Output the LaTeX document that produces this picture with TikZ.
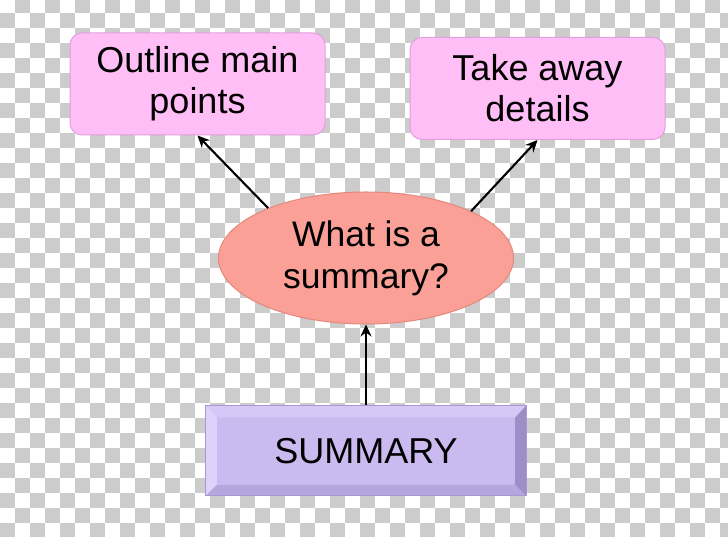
\documentclass[tikz,border=0pt]{standalone}
\usepackage{fontspec}
\setmainfont{Liberation Sans}
\usetikzlibrary{positioning,arrows.meta,calc,shapes.geometric}
\definecolor{checker}{RGB}{204,204,204}
\definecolor{pinkfill}{RGB}{255,190,245}
\definecolor{pinkline}{RGB}{225,160,220}
\definecolor{salmon}{RGB}{250,160,150}
\definecolor{salmonline}{RGB}{230,135,125}
\definecolor{lavender}{RGB}{203,186,240}
\definecolor{lavtop}{RGB}{214,200,246}
\definecolor{lavleft}{RGB}{222,210,250}
\definecolor{lavright}{RGB}{158,142,198}
\definecolor{lavbottom}{RGB}{182,166,222}
\definecolor{lavline}{RGB}{170,150,215}

\begin{document}
\begin{tikzpicture}[
    x=1pt, y=1pt,
    >={Stealth[length=12pt,width=11pt,inset=4pt]},
    ideabox/.style={
      rectangle, rounded corners=12pt,
      draw=pinkline, line width=1pt, fill=pinkfill,
      minimum width=255pt, minimum height=102pt,
      align=center, font=\fontsize{36}{41}\selectfont
    },
    question/.style={
      ellipse, draw=salmonline, line width=1pt, fill=salmon,
      minimum width=295pt, minimum height=132pt, inner sep=1pt,
      align=center, font=\fontsize{35.5}{42}\selectfont
    },
    bevelbox/.style={
      rectangle, fill=lavender,
      minimum width=320pt, minimum height=90pt,
      font=\fontsize{36}{42}\selectfont
    },
    link/.style={->, line width=2.1pt, black},
  ]

  % Background
  \useasboundingbox (0,0) rectangle (728,537);
  \begin{scope}
    \clip (0,0) rectangle (728,537);
    \foreach \i in {0,...,48}{
      \foreach \j in {0,...,36}{
        \ifodd\numexpr\i+\j\relax
          \fill[checker] (15*\i,539-15*\j) rectangle ++(15,-15);
        \fi
      }
    }
  \end{scope}

  % Nodes
  \node[question] (what)     at (366,279)   {What is a\\summary?};
  \node[ideabox]  (outline)  at (197.5,453) {Outline main\\points};
  \node[ideabox]  (takeaway) at (537.5,448.5) {Take away\\details};
  \node[bevelbox] (summary)  [below=81pt of what] {};

  % Bevel edges
  \fill[lavtop] (summary.north west) -- (summary.north east)
    -- ($(summary.north east)+(-11,-12)$) -- ($(summary.north west)+(11,-12)$) -- cycle;
  \fill[lavleft] (summary.north west) -- ($(summary.north west)+(11,-12)$)
    -- ($(summary.south west)+(11,11)$) -- (summary.south west) -- cycle;
  \fill[lavright] (summary.north east) -- ($(summary.north east)+(-11,-12)$)
    -- ($(summary.south east)+(-11,11)$) -- (summary.south east) -- cycle;
  \fill[lavbottom] (summary.south west) -- ($(summary.south west)+(11,11)$)
    -- ($(summary.south east)+(-11,11)$) -- (summary.south east) -- cycle;
  \draw[lavline, line width=0.8pt] (summary.north west) rectangle (summary.south east);
  \node[font=\fontsize{36}{42}\selectfont] (summarytext) at (summary.center) {SUMMARY};

  % Connectors
  \draw[link] (what.153) -- (outline.south);
  \draw[link] (what.24) -- (takeaway.south);
  \draw[link] (summary.north) -- (what.south);

\end{tikzpicture}
\end{document}
